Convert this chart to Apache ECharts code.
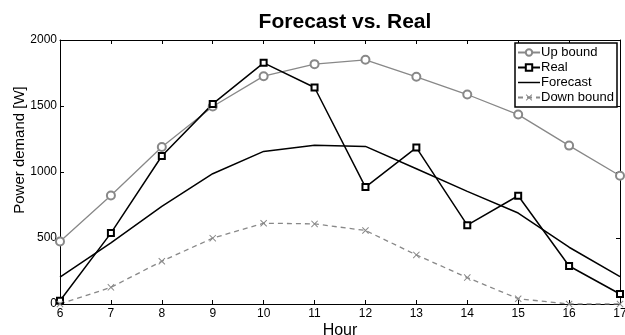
<!DOCTYPE html>
<html>
<head>
<meta charset="utf-8">
<script src="https://cdn.jsdelivr.net/npm/echarts@6/dist/echarts.min.js"></script>
<style>
  html, body {margin: 0; padding: 0; background: #fff;}
  #chart {width: 625px; height: 335px;}
</style>
</head>
<body>
<div id="chart"></div>
<script>
const hours = [6, 7, 8, 9, 10, 11, 12, 13, 14, 15, 16, 17];
const upBound = [473, 822, 1190, 1496, 1726, 1817, 1850, 1721, 1587, 1435, 1200, 972];
const real = [25, 537, 1121, 1516, 1827, 1640, 886, 1185, 597, 820, 288, 76];
const forecast = [203, 463, 739, 987, 1156, 1202, 1194, 1025, 853, 689, 430, 207];
const downBound = [0, 126, 324, 499, 612, 607, 557, 372, 200, 40, 0, 0];
const yTicks = [0, 500, 1000, 1500, 2000];

const font = 'Liberation Sans, Arial, sans-serif';
const pairs = arr => hours.map((h, i) => [h, arr[i]]);
const crossPath = 'path://M0,1L1,0L5,4L9,0L10,1L6,5L10,9L9,10L5,6L1,10L0,9L4,5Z';

const chart = echarts.init(document.getElementById('chart'));

const baseX = {
  type: 'value',
  min: 6,
  max: 17,
  interval: 1,
  splitLine: {show: false},
  axisLine: {show: true, onZero: false, lineStyle: {color: '#000', width: 1}},
  axisTick: {show: true, inside: true, length: 4, lineStyle: {color: '#000'}}
};
const baseY = {
  type: 'value',
  min: yTicks[0],
  max: yTicks[yTicks.length - 1],
  interval: 500,
  splitLine: {show: false},
  axisLine: {show: true, onZero: false, lineStyle: {color: '#000', width: 1}},
  axisTick: {show: true, inside: true, length: 4, lineStyle: {color: '#000'}}
};

chart.setOption({
  animation: false,
  backgroundColor: '#fff',
  title: {
    text: 'Forecast vs. Real',
    left: 340,
    textAlign: 'center',
    top: 7,
    textStyle: {fontFamily: font, fontSize: 21, fontWeight: 'bold', color: '#000'}
  },
  grid: {left: 60, right: 5, top: 40, bottom: 31, outerBoundsMode: 'none', containLabel: false},
  legend: {
    orient: 'vertical',
    right: 8,
    top: 43,
    itemWidth: 22,
    itemHeight: 8,
    itemGap: 2,
    padding: [3, 3, 3, 2],
    borderColor: '#000',
    borderWidth: 1.5,
    backgroundColor: '#fff',
    textStyle: {fontFamily: font, fontSize: 13, lineHeight: 13, color: '#000', padding: [0, 0, 0, -4]},
    data: [
      {name: 'Up bound'},
      {name: 'Real'},
      {name: 'Forecast', icon: 'path://M0,0L24,0L24,1.6L0,1.6Z'},
      {name: 'Down bound'}
    ]
  },
  xAxis: [
    Object.assign({}, baseX, {
      position: 'bottom',
      name: 'Hour',
      nameLocation: 'middle',
      nameGap: 19,
      nameMoveOverlap: false,
      nameTextStyle: {fontFamily: font, fontSize: 16, color: '#000'},
      axisLabel: {fontFamily: font, fontSize: 12, color: '#000', margin: 4}
    }),
    Object.assign({}, baseX, {position: 'top', axisLabel: {show: false}})
  ],
  yAxis: [
    Object.assign({}, baseY, {
      position: 'left',
      name: 'Power demand [W]',
      nameLocation: 'middle',
      nameGap: 33,
      nameMoveOverlap: false,
      nameTextStyle: {fontFamily: font, fontSize: 15, color: '#000', padding: [0, 0, 0, 44]},
      axisLabel: {fontFamily: font, fontSize: 12, color: '#000', margin: 3, formatter: v => String(v)}
    }),
    Object.assign({}, baseY, {position: 'right', axisLabel: {show: false}})
  ],
  series: [
    {
      name: 'Up bound',
      type: 'line',
      data: pairs(upBound),
      symbol: 'emptyCircle',
      symbolSize: 8,
      lineStyle: {color: '#888', width: 1.3},
      itemStyle: {color: '#888', borderColor: '#888', borderWidth: 1.3}
    },
    {
      name: 'Real',
      type: 'line',
      data: pairs(real),
      symbol: 'emptyRect',
      symbolSize: 6,
      lineStyle: {color: '#000', width: 1.5},
      itemStyle: {color: '#000', borderColor: '#000', borderWidth: 1.5}
    },
    {
      name: 'Forecast',
      type: 'line',
      data: pairs(forecast),
      symbol: 'none',
      lineStyle: {color: '#000', width: 1.5},
      itemStyle: {color: '#000'}
    },
    {
      name: 'Down bound',
      type: 'line',
      data: pairs(downBound),
      symbol: crossPath,
      symbolSize: 7,
      lineStyle: {color: '#888', width: 1.3, type: [5, 4]},
      itemStyle: {color: '#888', borderWidth: 0}
    }
  ]
});
</script>
</body>
</html>
